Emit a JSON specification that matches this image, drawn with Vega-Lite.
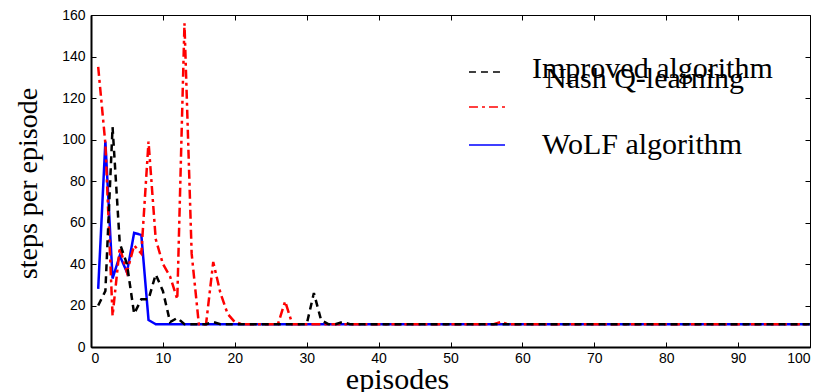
{
  "$schema": "https://vega.github.io/schema/vega-lite/v6.json",
  "width": 719,
  "height": 332,
  "autosize": "none",
  "padding": {"left": 91, "top": 15, "right": 18, "bottom": 45},
  "background": "white",
  "config": {
    "view": {"stroke": "black", "strokeWidth": 1},
    "axis": {
      "labelFont": "Liberation Sans",
      "labelFontSize": 14,
      "labelColor": "black",
      "tickColor": "black",
      "tickWidth": 1,
      "domain": false,
      "grid": false,
      "titleFont": "Liberation Serif",
      "titleFontWeight": "normal",
      "titleColor": "black"
    }
  },
  "datasets": {
    "steps": [
      {"ep":1,"series":"WoLF algorithm","steps":28},{"ep":2,"series":"WoLF algorithm","steps":99},{"ep":3,"series":"WoLF algorithm","steps":33},{"ep":4,"series":"WoLF algorithm","steps":44},{"ep":5,"series":"WoLF algorithm","steps":36},{"ep":6,"series":"WoLF algorithm","steps":55},{"ep":7,"series":"WoLF algorithm","steps":54},{"ep":8,"series":"WoLF algorithm","steps":13},{"ep":9,"series":"WoLF algorithm","steps":11},{"ep":10,"series":"WoLF algorithm","steps":11},
      {"ep":11,"series":"WoLF algorithm","steps":11},{"ep":12,"series":"WoLF algorithm","steps":11},{"ep":13,"series":"WoLF algorithm","steps":11},{"ep":14,"series":"WoLF algorithm","steps":11},{"ep":15,"series":"WoLF algorithm","steps":11},{"ep":16,"series":"WoLF algorithm","steps":11},{"ep":17,"series":"WoLF algorithm","steps":11},{"ep":18,"series":"WoLF algorithm","steps":11},{"ep":19,"series":"WoLF algorithm","steps":11},{"ep":20,"series":"WoLF algorithm","steps":11},
      {"ep":21,"series":"WoLF algorithm","steps":11},{"ep":22,"series":"WoLF algorithm","steps":11},{"ep":23,"series":"WoLF algorithm","steps":11},{"ep":24,"series":"WoLF algorithm","steps":11},{"ep":25,"series":"WoLF algorithm","steps":11},{"ep":26,"series":"WoLF algorithm","steps":11},{"ep":27,"series":"WoLF algorithm","steps":11},{"ep":28,"series":"WoLF algorithm","steps":11},{"ep":29,"series":"WoLF algorithm","steps":11},{"ep":30,"series":"WoLF algorithm","steps":11},
      {"ep":31,"series":"WoLF algorithm","steps":11},{"ep":32,"series":"WoLF algorithm","steps":11},{"ep":33,"series":"WoLF algorithm","steps":11},{"ep":34,"series":"WoLF algorithm","steps":11},{"ep":35,"series":"WoLF algorithm","steps":11},{"ep":36,"series":"WoLF algorithm","steps":11},{"ep":37,"series":"WoLF algorithm","steps":11},{"ep":38,"series":"WoLF algorithm","steps":11},{"ep":39,"series":"WoLF algorithm","steps":11},{"ep":40,"series":"WoLF algorithm","steps":11},
      {"ep":41,"series":"WoLF algorithm","steps":11},{"ep":42,"series":"WoLF algorithm","steps":11},{"ep":43,"series":"WoLF algorithm","steps":11},{"ep":44,"series":"WoLF algorithm","steps":11},{"ep":45,"series":"WoLF algorithm","steps":11},{"ep":46,"series":"WoLF algorithm","steps":11},{"ep":47,"series":"WoLF algorithm","steps":11},{"ep":48,"series":"WoLF algorithm","steps":11},{"ep":49,"series":"WoLF algorithm","steps":11},{"ep":50,"series":"WoLF algorithm","steps":11},
      {"ep":51,"series":"WoLF algorithm","steps":11},{"ep":52,"series":"WoLF algorithm","steps":11},{"ep":53,"series":"WoLF algorithm","steps":11},{"ep":54,"series":"WoLF algorithm","steps":11},{"ep":55,"series":"WoLF algorithm","steps":11},{"ep":56,"series":"WoLF algorithm","steps":11},{"ep":57,"series":"WoLF algorithm","steps":11},{"ep":58,"series":"WoLF algorithm","steps":11},{"ep":59,"series":"WoLF algorithm","steps":11},{"ep":60,"series":"WoLF algorithm","steps":11},
      {"ep":61,"series":"WoLF algorithm","steps":11},{"ep":62,"series":"WoLF algorithm","steps":11},{"ep":63,"series":"WoLF algorithm","steps":11},{"ep":64,"series":"WoLF algorithm","steps":11},{"ep":65,"series":"WoLF algorithm","steps":11},{"ep":66,"series":"WoLF algorithm","steps":11},{"ep":67,"series":"WoLF algorithm","steps":11},{"ep":68,"series":"WoLF algorithm","steps":11},{"ep":69,"series":"WoLF algorithm","steps":11},{"ep":70,"series":"WoLF algorithm","steps":11},
      {"ep":71,"series":"WoLF algorithm","steps":11},{"ep":72,"series":"WoLF algorithm","steps":11},{"ep":73,"series":"WoLF algorithm","steps":11},{"ep":74,"series":"WoLF algorithm","steps":11},{"ep":75,"series":"WoLF algorithm","steps":11},{"ep":76,"series":"WoLF algorithm","steps":11},{"ep":77,"series":"WoLF algorithm","steps":11},{"ep":78,"series":"WoLF algorithm","steps":11},{"ep":79,"series":"WoLF algorithm","steps":11},{"ep":80,"series":"WoLF algorithm","steps":11},
      {"ep":81,"series":"WoLF algorithm","steps":11},{"ep":82,"series":"WoLF algorithm","steps":11},{"ep":83,"series":"WoLF algorithm","steps":11},{"ep":84,"series":"WoLF algorithm","steps":11},{"ep":85,"series":"WoLF algorithm","steps":11},{"ep":86,"series":"WoLF algorithm","steps":11},{"ep":87,"series":"WoLF algorithm","steps":11},{"ep":88,"series":"WoLF algorithm","steps":11},{"ep":89,"series":"WoLF algorithm","steps":11},{"ep":90,"series":"WoLF algorithm","steps":11},
      {"ep":91,"series":"WoLF algorithm","steps":11},{"ep":92,"series":"WoLF algorithm","steps":11},{"ep":93,"series":"WoLF algorithm","steps":11},{"ep":94,"series":"WoLF algorithm","steps":11},{"ep":95,"series":"WoLF algorithm","steps":11},{"ep":96,"series":"WoLF algorithm","steps":11},{"ep":97,"series":"WoLF algorithm","steps":11},{"ep":98,"series":"WoLF algorithm","steps":11},{"ep":99,"series":"WoLF algorithm","steps":11},{"ep":100,"series":"WoLF algorithm","steps":11},

      {"ep":1,"series":"Nash Q-learning","steps":135},{"ep":2,"series":"Nash Q-learning","steps":98},{"ep":3,"series":"Nash Q-learning","steps":15},{"ep":4,"series":"Nash Q-learning","steps":48},{"ep":5,"series":"Nash Q-learning","steps":36},{"ep":6,"series":"Nash Q-learning","steps":49},{"ep":7,"series":"Nash Q-learning","steps":45},{"ep":8,"series":"Nash Q-learning","steps":99},{"ep":9,"series":"Nash Q-learning","steps":52},{"ep":10,"series":"Nash Q-learning","steps":40},
      {"ep":11,"series":"Nash Q-learning","steps":34},{"ep":12,"series":"Nash Q-learning","steps":23},{"ep":13,"series":"Nash Q-learning","steps":156},{"ep":14,"series":"Nash Q-learning","steps":45},{"ep":15,"series":"Nash Q-learning","steps":11},{"ep":16,"series":"Nash Q-learning","steps":11},{"ep":17,"series":"Nash Q-learning","steps":41},{"ep":18,"series":"Nash Q-learning","steps":26},{"ep":19,"series":"Nash Q-learning","steps":16},{"ep":20,"series":"Nash Q-learning","steps":12},
      {"ep":21,"series":"Nash Q-learning","steps":11},{"ep":22,"series":"Nash Q-learning","steps":11},{"ep":23,"series":"Nash Q-learning","steps":11},{"ep":24,"series":"Nash Q-learning","steps":11},{"ep":25,"series":"Nash Q-learning","steps":11},{"ep":26,"series":"Nash Q-learning","steps":11},{"ep":27,"series":"Nash Q-learning","steps":22},{"ep":28,"series":"Nash Q-learning","steps":11},{"ep":29,"series":"Nash Q-learning","steps":11},{"ep":30,"series":"Nash Q-learning","steps":11},
      {"ep":31,"series":"Nash Q-learning","steps":11},{"ep":32,"series":"Nash Q-learning","steps":11},{"ep":33,"series":"Nash Q-learning","steps":11},{"ep":34,"series":"Nash Q-learning","steps":11},{"ep":35,"series":"Nash Q-learning","steps":11},{"ep":36,"series":"Nash Q-learning","steps":11},{"ep":37,"series":"Nash Q-learning","steps":11},{"ep":38,"series":"Nash Q-learning","steps":11},{"ep":39,"series":"Nash Q-learning","steps":11},{"ep":40,"series":"Nash Q-learning","steps":11},
      {"ep":41,"series":"Nash Q-learning","steps":11},{"ep":42,"series":"Nash Q-learning","steps":11},{"ep":43,"series":"Nash Q-learning","steps":11},{"ep":44,"series":"Nash Q-learning","steps":11},{"ep":45,"series":"Nash Q-learning","steps":11},{"ep":46,"series":"Nash Q-learning","steps":11},{"ep":47,"series":"Nash Q-learning","steps":11},{"ep":48,"series":"Nash Q-learning","steps":11},{"ep":49,"series":"Nash Q-learning","steps":11},{"ep":50,"series":"Nash Q-learning","steps":11},
      {"ep":51,"series":"Nash Q-learning","steps":11},{"ep":52,"series":"Nash Q-learning","steps":11},{"ep":53,"series":"Nash Q-learning","steps":11},{"ep":54,"series":"Nash Q-learning","steps":11},{"ep":55,"series":"Nash Q-learning","steps":11},{"ep":56,"series":"Nash Q-learning","steps":11},{"ep":57,"series":"Nash Q-learning","steps":12},{"ep":58,"series":"Nash Q-learning","steps":11},{"ep":59,"series":"Nash Q-learning","steps":11},{"ep":60,"series":"Nash Q-learning","steps":11},
      {"ep":61,"series":"Nash Q-learning","steps":11},{"ep":62,"series":"Nash Q-learning","steps":11},{"ep":63,"series":"Nash Q-learning","steps":11},{"ep":64,"series":"Nash Q-learning","steps":11},{"ep":65,"series":"Nash Q-learning","steps":11},{"ep":66,"series":"Nash Q-learning","steps":11},{"ep":67,"series":"Nash Q-learning","steps":11},{"ep":68,"series":"Nash Q-learning","steps":11},{"ep":69,"series":"Nash Q-learning","steps":11},{"ep":70,"series":"Nash Q-learning","steps":11},
      {"ep":71,"series":"Nash Q-learning","steps":11},{"ep":72,"series":"Nash Q-learning","steps":11},{"ep":73,"series":"Nash Q-learning","steps":11},{"ep":74,"series":"Nash Q-learning","steps":11},{"ep":75,"series":"Nash Q-learning","steps":11},{"ep":76,"series":"Nash Q-learning","steps":11},{"ep":77,"series":"Nash Q-learning","steps":11},{"ep":78,"series":"Nash Q-learning","steps":11},{"ep":79,"series":"Nash Q-learning","steps":11},{"ep":80,"series":"Nash Q-learning","steps":11},
      {"ep":81,"series":"Nash Q-learning","steps":11},{"ep":82,"series":"Nash Q-learning","steps":11},{"ep":83,"series":"Nash Q-learning","steps":11},{"ep":84,"series":"Nash Q-learning","steps":11},{"ep":85,"series":"Nash Q-learning","steps":11},{"ep":86,"series":"Nash Q-learning","steps":11},{"ep":87,"series":"Nash Q-learning","steps":11},{"ep":88,"series":"Nash Q-learning","steps":11},{"ep":89,"series":"Nash Q-learning","steps":11},{"ep":90,"series":"Nash Q-learning","steps":11},
      {"ep":91,"series":"Nash Q-learning","steps":11},{"ep":92,"series":"Nash Q-learning","steps":11},{"ep":93,"series":"Nash Q-learning","steps":11},{"ep":94,"series":"Nash Q-learning","steps":11},{"ep":95,"series":"Nash Q-learning","steps":11},{"ep":96,"series":"Nash Q-learning","steps":11},{"ep":97,"series":"Nash Q-learning","steps":11},{"ep":98,"series":"Nash Q-learning","steps":11},{"ep":99,"series":"Nash Q-learning","steps":11},{"ep":100,"series":"Nash Q-learning","steps":11},

      {"ep":1,"series":"Improved algorithm","steps":20},{"ep":2,"series":"Improved algorithm","steps":27},{"ep":3,"series":"Improved algorithm","steps":106},{"ep":4,"series":"Improved algorithm","steps":50},{"ep":5,"series":"Improved algorithm","steps":40},{"ep":6,"series":"Improved algorithm","steps":16},{"ep":7,"series":"Improved algorithm","steps":23},{"ep":8,"series":"Improved algorithm","steps":23},{"ep":9,"series":"Improved algorithm","steps":35},{"ep":10,"series":"Improved algorithm","steps":27},
      {"ep":11,"series":"Improved algorithm","steps":12},{"ep":12,"series":"Improved algorithm","steps":14},{"ep":13,"series":"Improved algorithm","steps":11},{"ep":14,"series":"Improved algorithm","steps":11},{"ep":15,"series":"Improved algorithm","steps":11},{"ep":16,"series":"Improved algorithm","steps":11},{"ep":17,"series":"Improved algorithm","steps":12},{"ep":18,"series":"Improved algorithm","steps":11},{"ep":19,"series":"Improved algorithm","steps":11},{"ep":20,"series":"Improved algorithm","steps":11},
      {"ep":21,"series":"Improved algorithm","steps":11},{"ep":22,"series":"Improved algorithm","steps":11},{"ep":23,"series":"Improved algorithm","steps":11},{"ep":24,"series":"Improved algorithm","steps":11},{"ep":25,"series":"Improved algorithm","steps":11},{"ep":26,"series":"Improved algorithm","steps":11},{"ep":27,"series":"Improved algorithm","steps":11},{"ep":28,"series":"Improved algorithm","steps":11},{"ep":29,"series":"Improved algorithm","steps":11},{"ep":30,"series":"Improved algorithm","steps":11},
      {"ep":31,"series":"Improved algorithm","steps":26},{"ep":32,"series":"Improved algorithm","steps":13},{"ep":33,"series":"Improved algorithm","steps":11},{"ep":34,"series":"Improved algorithm","steps":11},{"ep":35,"series":"Improved algorithm","steps":12},{"ep":36,"series":"Improved algorithm","steps":11},{"ep":37,"series":"Improved algorithm","steps":11},{"ep":38,"series":"Improved algorithm","steps":11},{"ep":39,"series":"Improved algorithm","steps":11},{"ep":40,"series":"Improved algorithm","steps":11},
      {"ep":41,"series":"Improved algorithm","steps":11},{"ep":42,"series":"Improved algorithm","steps":11},{"ep":43,"series":"Improved algorithm","steps":11},{"ep":44,"series":"Improved algorithm","steps":11},{"ep":45,"series":"Improved algorithm","steps":11},{"ep":46,"series":"Improved algorithm","steps":11},{"ep":47,"series":"Improved algorithm","steps":11},{"ep":48,"series":"Improved algorithm","steps":11},{"ep":49,"series":"Improved algorithm","steps":11},{"ep":50,"series":"Improved algorithm","steps":11},
      {"ep":51,"series":"Improved algorithm","steps":11},{"ep":52,"series":"Improved algorithm","steps":11},{"ep":53,"series":"Improved algorithm","steps":11},{"ep":54,"series":"Improved algorithm","steps":11},{"ep":55,"series":"Improved algorithm","steps":11},{"ep":56,"series":"Improved algorithm","steps":11},{"ep":57,"series":"Improved algorithm","steps":11},{"ep":58,"series":"Improved algorithm","steps":11},{"ep":59,"series":"Improved algorithm","steps":11},{"ep":60,"series":"Improved algorithm","steps":11},
      {"ep":61,"series":"Improved algorithm","steps":11},{"ep":62,"series":"Improved algorithm","steps":11},{"ep":63,"series":"Improved algorithm","steps":11},{"ep":64,"series":"Improved algorithm","steps":11},{"ep":65,"series":"Improved algorithm","steps":11},{"ep":66,"series":"Improved algorithm","steps":11},{"ep":67,"series":"Improved algorithm","steps":11},{"ep":68,"series":"Improved algorithm","steps":11},{"ep":69,"series":"Improved algorithm","steps":11},{"ep":70,"series":"Improved algorithm","steps":11},
      {"ep":71,"series":"Improved algorithm","steps":11},{"ep":72,"series":"Improved algorithm","steps":11},{"ep":73,"series":"Improved algorithm","steps":11},{"ep":74,"series":"Improved algorithm","steps":11},{"ep":75,"series":"Improved algorithm","steps":11},{"ep":76,"series":"Improved algorithm","steps":11},{"ep":77,"series":"Improved algorithm","steps":11},{"ep":78,"series":"Improved algorithm","steps":11},{"ep":79,"series":"Improved algorithm","steps":11},{"ep":80,"series":"Improved algorithm","steps":11},
      {"ep":81,"series":"Improved algorithm","steps":11},{"ep":82,"series":"Improved algorithm","steps":11},{"ep":83,"series":"Improved algorithm","steps":11},{"ep":84,"series":"Improved algorithm","steps":11},{"ep":85,"series":"Improved algorithm","steps":11},{"ep":86,"series":"Improved algorithm","steps":11},{"ep":87,"series":"Improved algorithm","steps":11},{"ep":88,"series":"Improved algorithm","steps":11},{"ep":89,"series":"Improved algorithm","steps":11},{"ep":90,"series":"Improved algorithm","steps":11},
      {"ep":91,"series":"Improved algorithm","steps":11},{"ep":92,"series":"Improved algorithm","steps":11},{"ep":93,"series":"Improved algorithm","steps":11},{"ep":94,"series":"Improved algorithm","steps":11},{"ep":95,"series":"Improved algorithm","steps":11},{"ep":96,"series":"Improved algorithm","steps":11},{"ep":97,"series":"Improved algorithm","steps":11},{"ep":98,"series":"Improved algorithm","steps":11},{"ep":99,"series":"Improved algorithm","steps":11},{"ep":100,"series":"Improved algorithm","steps":11}
    ]
  },
  "data": {"name": "steps"},
  "layer": [
    {
      "mark": {"type": "line", "strokeWidth": 2.5, "strokeJoin": "miter"},
      "encoding": {
        "x": {
          "field": "ep", "type": "quantitative",
          "scale": {"domain": [0, 100], "nice": false, "zero": false},
          "axis": {
            "orient": "bottom",
            "values": [0, 10, 20, 30, 40, 50, 60, 70, 80, 90, 100],
            "domain": true,
            "domainColor": "black",
            "domainWidth": 2,
            "tickSize": -5,
            "labelPadding": 9,
            "title": "episodes",
            "titleFontSize": 30,
            "titleX": 306,
            "titleY": 41,
            "titleBaseline": "alphabetic",
            "titleAlign": "center"
          }
        },
        "y": {
          "field": "steps", "type": "quantitative",
          "scale": {"domain": [0, 160], "nice": false},
          "axis": {
            "orient": "left",
            "values": [0, 20, 40, 60, 80, 100, 120, 140, 160],
            "domain": true,
            "domainColor": "black",
            "domainWidth": 2,
            "tickSize": -5,
            "labelPadding": 11,
            "title": "steps per episode",
            "titleFontSize": 28,
            "titleAngle": -90,
            "titleX": -55,
            "titleY": 168,
            "titleBaseline": "alphabetic",
            "titleAlign": "center"
          }
        },
        "color": {
          "field": "series", "type": "nominal",
          "scale": {
            "domain": ["Improved algorithm", "Nash Q-learning", "WoLF algorithm"],
            "range": ["#000000", "#ff0000", "#0000ff"]
          },
          "legend": {
            "orient": "none",
            "legendX": 377,
            "legendY": 38,
            "title": null,
            "padding": 0,
            "symbolType": "stroke",
            "symbolSize": 1300,
            "symbolStrokeWidth": 1.5,
            "labelFont": "Liberation Serif",
            "labelFontSize": 30,
            "labelColor": "black",
            "labelOffset": 26,
            "labelLimit": 400,
            "rowPadding": 4,
            "labelExpr": "datum.label === 'Nash Q-learning' ? '' : datum.label",
            "encode": {
              "labels": {
                "update": {
                  "dx": {"signal": "datum.label === 'WoLF algorithm' ? 10 : 0"},
                  "dy": {"signal": "datum.label === 'Improved algorithm' ? -3 : 0"}
                }
              }
            }
          }
        },
        "strokeDash": {
          "field": "series", "type": "nominal",
          "scale": {
            "domain": ["Improved algorithm", "Nash Q-learning", "WoLF algorithm"],
            "range": [[7, 5], [9, 4, 3, 4], [1, 0]]
          },
          "legend": {
            "orient": "none",
            "legendX": 377,
            "legendY": 38,
            "title": null,
            "padding": 0,
            "symbolType": "stroke",
            "symbolSize": 1300,
            "symbolStrokeWidth": 1.5,
            "labelFont": "Liberation Serif",
            "labelFontSize": 30,
            "labelColor": "black",
            "labelOffset": 26,
            "labelLimit": 400,
            "rowPadding": 4,
            "labelExpr": "datum.label === 'Nash Q-learning' ? '' : datum.label",
            "encode": {
              "labels": {
                "update": {
                  "dx": {"signal": "datum.label === 'WoLF algorithm' ? 10 : 0"},
                  "dy": {"signal": "datum.label === 'Improved algorithm' ? -3 : 0"}
                }
              }
            }
          }
        }
      }
    },
    {
      "mark": {"type": "line", "opacity": 0},
      "encoding": {
        "x": {
          "field": "ep", "type": "quantitative",
          "axis": {
            "orient": "top",
            "values": [0, 10, 20, 30, 40, 50, 60, 70, 80, 90, 100],
            "tickSize": -5,
            "labels": false,
            "title": null
          }
        },
        "y": {
          "field": "steps", "type": "quantitative",
          "axis": {
            "orient": "right",
            "values": [0, 20, 40, 60, 80, 100, 120, 140, 160],
            "tickSize": -5,
            "labels": false,
            "title": null
          }
        }
      }
    },
    {
      "transform": [{"filter": "datum.series === 'Nash Q-learning'"}],
      "mark": {"type": "point", "opacity": 0},
      "encoding": {
        "x": {"field": "ep", "type": "quantitative", "axis": null},
        "y": {"field": "steps", "type": "quantitative", "axis": null},
        "shape": {
          "field": "series", "type": "nominal",
          "legend": {
            "orient": "none",
            "legendX": 391,
            "legendY": 45,
            "title": null,
            "padding": 0,
            "symbolType": "stroke",
            "symbolSize": 1300,
            "symbolOpacity": 0,
            "symbolStrokeWidth": 0,
            "labelFont": "Liberation Serif",
            "labelFontSize": 30,
            "labelColor": "black",
            "labelOffset": 26,
            "labelLimit": 400
          }
        }
      }
    }
  ],
  "resolve": {"axis": {"x": "independent", "y": "independent"}}
}
